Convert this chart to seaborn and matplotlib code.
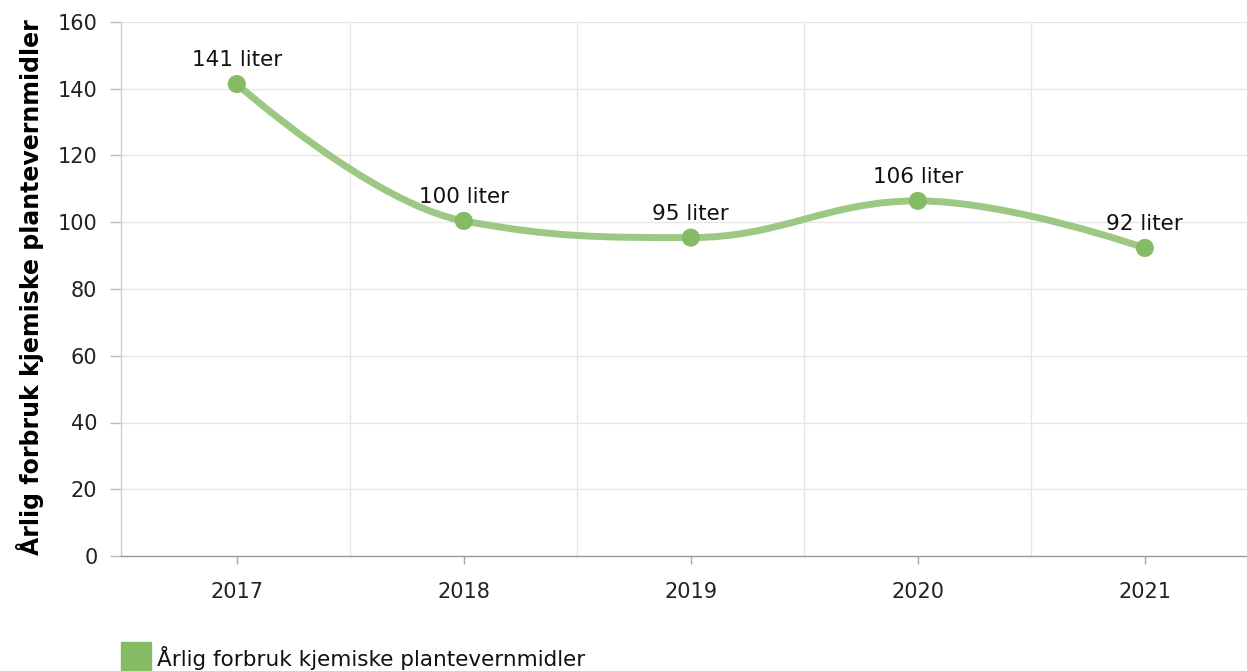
import numpy as np
import pandas as pd
import matplotlib
matplotlib.use("Agg")
import matplotlib.pyplot as plt
from matplotlib.path import Path
from matplotlib.patches import PathPatch
import seaborn as sns

years = ["2017", "2018", "2019", "2020", "2021"]
values = [141.4, 100.4, 95.4, 106.4, 92.3]
labels = ["141 liter", "100 liter", "95 liter", "106 liter", "92 liter"]
series_name = "Årlig forbruk kjemiske plantevernmidler"
y_ticks = [0, 20, 40, 60, 80, 100, 120, 140, 160]

sns.set_style("white")
plt.rcParams["font.family"] = ["DejaVu Sans"]

df = pd.DataFrame({"x": np.arange(len(years)), "y": values, "year": years})

fig = plt.figure(figsize=(12.47, 6.71), dpi=100)
ax = fig.add_axes([121 / 1247, 1 - 556 / 671, 1 - 121 / 1247, (556 - 22) / 671])

# Highcharts-like spline path (bezier control points computed from the data points)
def spline_path(xs, ys, smoothing=1.5):
    n = len(xs)
    denom = smoothing + 1
    lc = [(xs[i], ys[i]) for i in range(n)]
    rc = [(xs[i], ys[i]) for i in range(n)]
    for i in range(1, n - 1):
        px, py = xs[i], ys[i]
        lx, ly = xs[i - 1], ys[i - 1]
        nx, ny = xs[i + 1], ys[i + 1]
        lcx = (smoothing * px + lx) / denom
        lcy = (smoothing * py + ly) / denom
        rcx = (smoothing * px + nx) / denom
        rcy = (smoothing * py + ny) / denom
        corr = ((rcy - lcy) * (rcx - px)) / (rcx - lcx) + py - rcy
        lcy += corr
        rcy += corr
        if lcy > ly and lcy > py:
            lcy = max(ly, py)
            rcy = 2 * py - lcy
        elif lcy < ly and lcy < py:
            lcy = min(ly, py)
            rcy = 2 * py - lcy
        if rcy > ny and rcy > py:
            rcy = max(ny, py)
            lcy = 2 * py - rcy
        elif rcy < ny and rcy < py:
            rcy = min(ny, py)
            lcy = 2 * py - rcy
        lc[i] = (lcx, lcy)
        rc[i] = (rcx, rcy)
    verts = [(xs[0], ys[0])]
    codes = [Path.MOVETO]
    for i in range(1, n):
        verts += [rc[i - 1], lc[i], (xs[i], ys[i])]
        codes += [Path.CURVE4] * 3
    return Path(verts, codes)

path = spline_path(list(df["x"]), list(df["y"]))
ax.add_patch(PathPatch(path, facecolor="none", edgecolor="#9cc884", lw=5,
                       capstyle="round", joinstyle="round", zorder=3))

sns.scatterplot(data=df, x="x", y="y", ax=ax, color="#85bb65", s=170,
                edgecolor="none", zorder=4, legend=False)

for xi, yi, lab in zip(df["x"], df["y"], labels):
    ax.annotate(lab, (xi, yi), xytext=(0, 10), textcoords="offset points",
                ha="center", va="bottom", fontsize=15.5, color="#111111", zorder=5)

ax.set_xlim(-0.51, 4.45)
ax.set_ylim(0, 160)
ax.set_yticks(y_ticks)
ax.set_yticklabels([str(t) for t in y_ticks], fontsize=15, color="#222222")
ax.set_xticks(df["x"])
ax.set_xticklabels(years, fontsize=15, color="#222222")

# grid: horizontal at y ticks, vertical at category boundaries
for t in y_ticks[1:]:
    ax.axhline(t, color="#e6e6e6", lw=1, zorder=0)
for b in np.arange(0.5, len(years) - 0.5, 1.0):
    ax.axvline(b, color="#e6e6e6", lw=1, zorder=0)

for s in ["top", "right"]:
    ax.spines[s].set_visible(False)
ax.spines["left"].set_color("#cccccc")
ax.spines["bottom"].set_color("#999999")
ax.spines["left"].set_linewidth(1)
ax.spines["bottom"].set_linewidth(1)
ax.tick_params(axis="y", length=8, width=1, color="#bbbbbb", pad=9, left=True)
ax.tick_params(axis="x", length=6, width=1, color="#aaaaaa", pad=13, bottom=True)

ax.set_xlabel("")
ax.set_ylabel(series_name, fontsize=17, fontweight="bold", color="#000000")
ax.yaxis.set_label_coords(-0.068, 0.503)

# legend
fig.patches.append(plt.Rectangle((121 / 1247, 1 - 671 / 671), 30 / 1247, 29 / 671,
                                 transform=fig.transFigure, color="#85bb65"))
fig.text(157 / 1247, 1 - 658 / 671, series_name, fontsize=15.5, va="center",
         ha="left", color="#111111")

fig.savefig("out.png", dpi=100)
